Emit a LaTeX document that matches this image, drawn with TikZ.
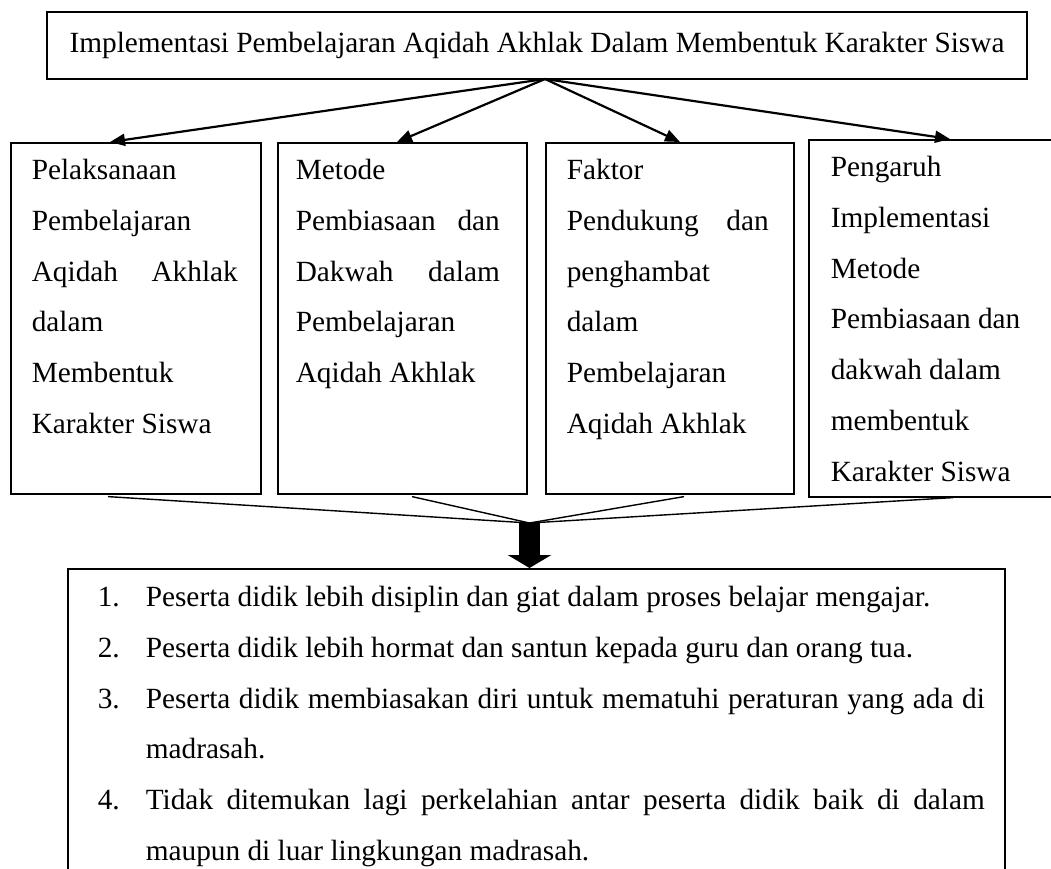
\documentclass[tikz,border=0pt]{standalone}
\usepackage{fontspec}
\setmainfont{Liberation Serif}
\usetikzlibrary{arrows.meta,calc}
\newcommand\boxlines[5]{\parbox[c][#2][t]{#1}{\fontsize{29.3}{50.7}\selectfont\leftskip=#3\relax\parindent=0pt\rule{0pt}{#4}#5\par}}
\newcommand\jl[2]{\makebox[#1][s]{#2}}
\newcommand\num[1]{\makebox[48pt][l]{#1}}
\begin{document}
\begin{tikzpicture}[x=1pt,y=-1pt,
  box/.style={draw, line width=1.6pt, inner sep=0pt, anchor=north west},
  arr/.style={line width=2.2pt, -{Triangle[length=15pt,width=12pt]}},
  conn/.style={line width=1.4pt},
  fat/.style={line width=21pt, -{Triangle[length=13pt,width=43pt]}}]
\clip (0,0) rectangle (1051,868);
\fill[white] (0,0) rectangle (1051,868);
\node[draw, line width=1.6pt, minimum width=980pt, minimum height=67pt, inner sep=0pt] (top) at (537,45.5)
  {\fontsize{29.3}{35}\selectfont Implementasi Pembelajaran Aqidah Akhlak Dalam Membentuk Karakter Siswa};
\node[box] (b1) at (10,142) {\boxlines{250pt}{351pt}{21pt}{37pt}{Pelaksanaan\\ Pembelajaran\\ \jl{206pt}{Aqidah Akhlak}\\ dalam\\ Membentuk\\ Karakter Siswa}};
\node[box] (b2) at (277,142) {\boxlines{249pt}{351pt}{18pt}{37pt}{Metode\\ \jl{204pt}{Pembiasaan dan}\\ \jl{204pt}{Dakwah dalam}\\ Pembelajaran\\ Aqidah Akhlak}};
\node[box] (b3) at (545,142) {\boxlines{248pt}{351pt}{21pt}{37pt}{Faktor\\ \jl{202pt}{Pendukung dan}\\ penghambat\\ dalam\\ Pembelajaran\\ Aqidah Akhlak}};
\node[box] (b4) at (808,139) {\boxlines{250pt}{357pt}{22pt}{37pt}{Pengaruh\\ Implementasi\\ Metode\\ Pembiasaan dan\\ dakwah dalam\\ membentuk\\ Karakter Siswa}};
\node[box] (res) at (67,568) {\boxlines{937pt}{320pt}{30pt}{38pt}{%
  \num{1.}Peserta didik lebih disiplin dan giat dalam proses belajar mengajar.\\
  \num{2.}Peserta didik lebih hormat dan santun kepada guru dan orang tua.\\
  \num{3.}\jl{839pt}{Peserta didik membiasakan diri untuk mematuhi peraturan yang ada di}\\
  \hspace*{48pt}madrasah.\\
  \num{4.}\jl{839pt}{Tidak ditemukan lagi perkelahian antar peserta didik baik di dalam}\\
  \hspace*{48pt}maupun di luar lingkungan madrasah.}};
\coordinate (apex) at (545,79);
\draw[arr] (apex) -- ($(b1.north west)+(100,0)$);
\draw[arr] (apex) -- ($(b2.north west)+(120,0)$);
\draw[arr] (apex) -- ($(b3.north west)+(135,0)$);
\draw[arr] (apex) -- ($(b4.north west)+(142,0)$);
\coordinate (conv) at (529.5,523);
\draw[conn] ($(b1.south west)+(98,2)$) -- (conv);
\draw[conn] ($(b2.south west)+(135,2)$) -- (conv);
\draw[conn] ($(b3.south west)+(139,2)$) -- (conv);
\draw[conn] ($(b4.south west)+(145,0)$) -- (conv);
\draw[fat] (conv) -- (conv |- res.north);
\end{tikzpicture}
\end{document}
